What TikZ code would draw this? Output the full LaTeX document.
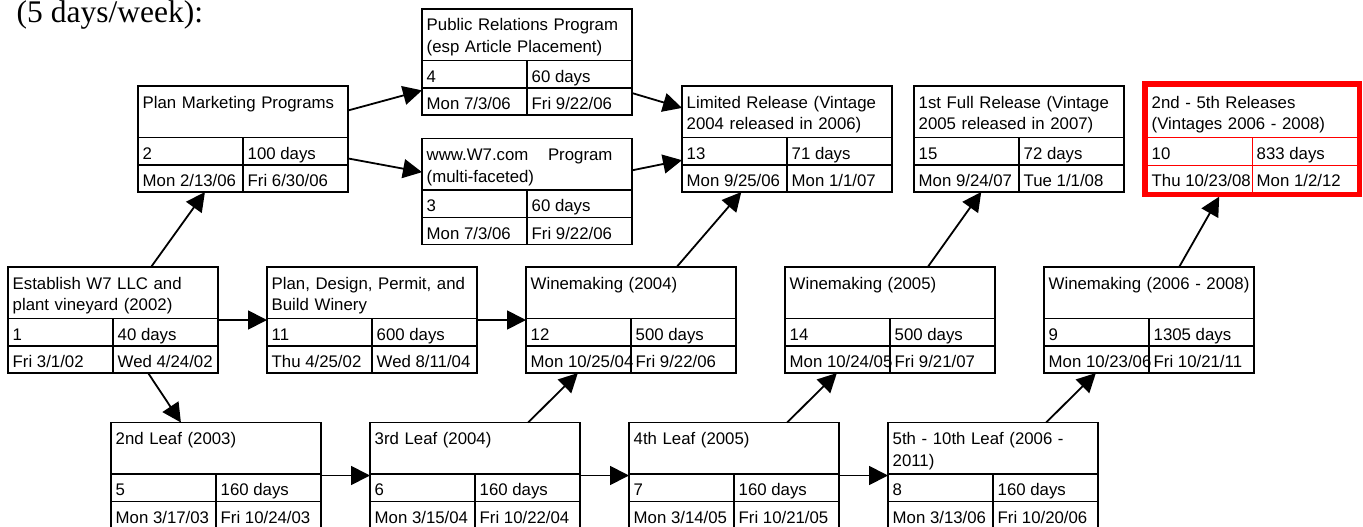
\documentclass[tikz,border=0pt]{standalone}
\usepackage{fontspec}
\setmainfont{Liberation Sans}
\newfontfamily\headfont{Liberation Serif}
\usetikzlibrary{arrows.meta,calc,positioning,fit}

\newcommand\pertfont{\fontsize{16.8}{21.5}\selectfont}

\tikzset{
  pert/.style={draw, minimum width=210pt, minimum height=106pt,
    inner sep=0pt, outer sep=0pt, line width=1.6pt},
  pertline/.style={line width=1.4pt},
  titletext/.style={anchor=base west, inner sep=0pt, text width=201pt,
    align=left, font=\pertfont, text=black},
  celltext/.style={anchor=base west, inner sep=0pt, font=\pertfont, text=black},
  flow/.style={-{Triangle[length=19pt,width=19pt]}, line width=1.8pt},
}

% name, placement, title, id, duration, start, finish
\newcommand\pertbox[7]{%
  \node[pert,#2] (#1) {};
  \draw[pertline] ($(#1.north west)+(0,51.5)$) -- ($(#1.north east)+(0,51.5)$);
  \draw[pertline] ($(#1.north west)+(0,79)$) -- ($(#1.north east)+(0,79)$);
  \draw[pertline] ($(#1.north)+(0,51.5)$) -- (#1.south);
  \node[titletext] (#1-name) at ($(#1.north west)+(4.5,22)$) {#3};
  \node[celltext] (#1-id) at ($(#1.north west)+(4.5,73)$) {#4};
  \node[celltext] (#1-dur) at ($(#1.north)+(4.5,73)$) {#5};
  \node[celltext] (#1-start) at ($(#1.north west)+(4.5,100.5)$) {#6};
  \node[celltext] (#1-finish) at ($(#1.north)+(4.5,100.5)$) {#7};
}

\begin{document}
\begin{tikzpicture}[x=1pt,y=-1pt]
  \clip (0,0) rectangle (1363,527);

  \node[anchor=base west, inner sep=0pt, font=\headfont\fontsize{31.5}{36}\selectfont]
    (note) at (16.5,23) {(5 days/week):};

  % middle row
  \pertbox{est}{at={(113,320)}}{Establish W7 LLC and\\plant vineyard (2002)}{1}{40 days}{Fri 3/1/02}{Wed 4/24/02}
  \pertbox{design}{right=49pt of est}{Plan, Design, Permit, and\\Build Winery}{11}{600 days}{Thu 4/25/02}{Wed 8/11/04}
  \pertbox{wm04}{right=49pt of design}{Winemaking (2004)}{12}{500 days}{Mon 10/25/04}{Fri 9/22/06}
  \pertbox{wm05}{right=49pt of wm04}{Winemaking (2005)}{14}{500 days}{Mon 10/24/05}{Fri 9/21/07}
  \pertbox{wm06}{right=49pt of wm05}{Winemaking (2006 - 2008)}{9}{1305 days}{Mon 10/23/06}{Fri 10/21/11}

  % bottom row
  \pertbox{leaf2}{at={(216,475.5)}}{2nd Leaf (2003)}{5}{160 days}{Mon 3/17/03}{Fri 10/24/03}
  \pertbox{leaf3}{right=49pt of leaf2}{3rd Leaf (2004)}{6}{160 days}{Mon 3/15/04}{Fri 10/22/04}
  \pertbox{leaf4}{right=49pt of leaf3}{4th Leaf (2005)}{7}{160 days}{Mon 3/14/05}{Fri 10/21/05}
  \pertbox{leaf5}{right=49pt of leaf4}{5th - 10th Leaf (2006 -\\2011)}{8}{160 days}{Mon 3/13/06}{Fri 10/20/06}

  % top rows
  \pertbox{mkt}{at={(243,139)}}{Plan Marketing Programs}{2}{100 days}{Mon 2/13/06}{Fri 6/30/06}
  \pertbox{pr}{at={(527,62)}}{Public Relations Program\\(esp Article Placement)}{4}{60 days}{Mon 7/3/06}{Fri 9/22/06}
  \pertbox{web}{at={(527,191.5)}}{www.W7.com\hspace{14pt} Program\\(multi-faceted)}{3}{60 days}{Mon 7/3/06}{Fri 9/22/06}
  \pertbox{ltd}{at={(787,139)}}{Limited Release (Vintage\\2004 released in 2006)}{13}{71 days}{Mon 9/25/06}{Mon 1/1/07}
  \pertbox{full1}{right=22pt of ltd}{1st Full Release (Vintage\\2005 released in 2007)}{15}{72 days}{Mon 9/24/07}{Tue 1/1/08}
  \begin{scope}[red, pert/.append style={line width=0.8pt}, pertline/.append style={line width=0.8pt}]
    \pertbox{rel}{right=23pt of full1}{2nd - 5th Releases\\(Vintages 2006 - 2008)}{10}{833 days}{Thu 10/23/08}{Mon 1/2/12}
  \end{scope}
  \node[fit=(rel), inner sep=2.4pt, draw=red, line width=4.5pt] (relframe) {};

  % links
  \draw[flow] (est) -- (mkt);
  \draw[flow] (est) -- (leaf2);
  \draw[flow] (est) -- (design);
  \draw[flow] (design) -- (wm04);
  \draw[flow] (mkt) -- (pr);
  \draw[flow] (mkt) -- (web);
  \draw[flow] (pr) -- (ltd);
  \draw[flow] (web) -- (ltd);
  \draw[flow] (wm04) -- (ltd);
  \draw[flow] (wm05) -- (full1);
  \draw[flow] (wm06) -- (relframe);
  \draw[flow] (leaf2) -- (leaf3);
  \draw[flow] (leaf3) -- (leaf4);
  \draw[flow] (leaf4) -- (leaf5);
  \draw[flow] (leaf3) -- (wm04);
  \draw[flow] (leaf4) -- (wm05);
  \draw[flow] (leaf5) -- (wm06);
\end{tikzpicture}
\end{document}
